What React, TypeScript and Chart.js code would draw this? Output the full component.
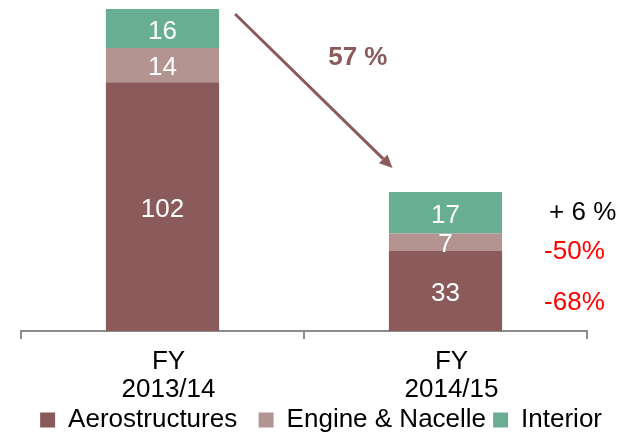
import React, { useEffect, useRef } from 'react';
import { Chart, registerables } from 'chart.js';

Chart.register(...registerables);

// ---- data ----
const categories = [['FY', '2013/14'], ['FY', '2014/15']];
const seriesNames = ['Aerostructures', 'Engine & Nacelle', 'Interior'];
const aerostructures = [102, 33];
const engineNacelle = [14, 7];
const interior = [16, 17];
const seriesColors = ['#8B5B5B', '#B49491', '#68AE92'];
// change labels, listed top to bottom: Interior, Engine & Nacelle, Aerostructures
const changeLabels = ['+ 6 %', '-50%', '-68%'];
const changeSeriesIndex = [2, 1, 0];
const changeColors = ['#000000', '#FF0000', '#FF0000'];
const totalChangeLabel = '57 %';
const yMax = 132;

const FONT = '"Liberation Sans", Arial, Helvetica, sans-serif';

const annotationPlugin = {
  id: 'annotations',
  afterDatasetsDraw(chart: any) {
    const ctx = chart.ctx as CanvasRenderingContext2D;
    ctx.save();
    // value labels inside segments
    ctx.font = `26px ${FONT}`;
    ctx.fillStyle = '#FFFFFF';
    ctx.textAlign = 'center';
    ctx.textBaseline = 'middle';
    chart.data.datasets.forEach((ds: any, di: number) => {
      const meta = chart.getDatasetMeta(di);
      meta.data.forEach((el: any, i: number) => {
        const p = el.getProps(['x', 'y', 'base'], true);
        ctx.fillText(String(ds.data[i]), p.x, (p.y + p.base) / 2 + 3);
      });
    });

    // arrow from top of first bar to top of second bar
    const topMeta = chart.getDatasetMeta(2);
    const b1 = topMeta.data[0].getProps(['x', 'y', 'width'], true);
    const b2 = topMeta.data[1].getProps(['x', 'y', 'width'], true);
    const sx = b1.x + b1.width / 2 + 16;
    const sy = b1.y + 5;
    const ex = b2.x - 53;
    const ey = b2.y - 24;
    const ang = Math.atan2(ey - sy, ex - sx);
    const head = 13;
    const halfW = 6;
    const bx = ex - head * Math.cos(ang);
    const by = ey - head * Math.sin(ang);
    ctx.strokeStyle = '#8B5B5B';
    ctx.fillStyle = '#8B5B5B';
    ctx.lineWidth = 3;
    ctx.beginPath();
    ctx.moveTo(sx, sy);
    ctx.lineTo(bx, by);
    ctx.stroke();
    ctx.beginPath();
    ctx.moveTo(ex, ey);
    ctx.lineTo(bx + halfW * Math.sin(ang), by - halfW * Math.cos(ang));
    ctx.lineTo(bx - halfW * Math.sin(ang), by + halfW * Math.cos(ang));
    ctx.closePath();
    ctx.fill();

    // total change label
    ctx.font = `bold 26px ${FONT}`;
    ctx.fillStyle = '#8B5B5B';
    ctx.textAlign = 'center';
    ctx.fillText(totalChangeLabel, (sx + ex) / 2 + 44, (sy + ey) / 2 - 33);

    // per-series change labels to the right of the second bar
    ctx.font = `26px ${FONT}`;
    ctx.textAlign = 'left';
    const xOffsets = [47, 42, 42];
    const yOffsets = [0, 10, 12];
    changeLabels.forEach((txt, k) => {
      const el = chart.getDatasetMeta(changeSeriesIndex[k]).data[1];
      const p = el.getProps(['x', 'y', 'base', 'width'], true);
      ctx.fillStyle = changeColors[k];
      ctx.fillText(txt, p.x + p.width / 2 + xOffsets[k], (p.y + p.base) / 2 + yOffsets[k]);
    });
    ctx.restore();
  },
};

export default function App() {
  const canvasRef = useRef<HTMLCanvasElement | null>(null);

  useEffect(() => {
    if (!canvasRef.current) return;
    const values = [aerostructures, engineNacelle, interior];
    const defaultLabels = (Chart.defaults.plugins.legend.labels as any).generateLabels;
    const chart = new Chart(canvasRef.current, {
      type: 'bar',
      data: {
        labels: categories,
        datasets: seriesNames.map((name, i) => ({
          label: name,
          data: values[i],
          backgroundColor: seriesColors[i],
          borderWidth: 0,
          categoryPercentage: 1,
          barPercentage: 0.4,
        })),
      },
      plugins: [annotationPlugin],
      options: {
        animation: false,
        responsive: true,
        maintainAspectRatio: false,
        layout: { padding: { top: 9, left: 0, right: 13, bottom: 0 } },
        plugins: {
          tooltip: { enabled: false },
          title: { display: false },
          legend: {
            position: 'bottom',
            align: 'end',
            labels: {
              boxWidth: 15,
              boxHeight: 15,
              padding: 7,
              color: '#000000',
              font: { size: 26, family: FONT },
              generateLabels: (c: any) =>
                defaultLabels(c).map((item: any, i: number) => ({
                  ...item,
                  text: i === 0 ? item.text + '  ' : item.text,
                })),
            },
          },
        },
        scales: {
          x: {
            stacked: true,
            offset: true,
            grid: {
              display: true,
              drawOnChartArea: false,
              drawTicks: true,
              tickLength: 8,
              color: '#8C8C8C',
              lineWidth: 2,
              offset: true,
            },
            border: { display: true, color: '#8C8C8C', width: 2 },
            ticks: {
              color: '#000000',
              padding: 9,
              labelOffset: 6,
              maxRotation: 0,
              font: { size: 26, family: FONT, lineHeight: 28 / 26 },
            },
            afterFit: (s: any) => {
              s.height = 69;
            },
          },
          y: {
            stacked: true,
            min: 0,
            max: yMax,
            display: true,
            grid: { display: false },
            border: { display: false },
            ticks: { display: false },
            afterFit: (s: any) => {
              s.width = 21;
            },
          },
          yRight: {
            type: 'linear',
            position: 'right',
            display: true,
            grid: { display: false },
            border: { display: false },
            ticks: { display: false },
            afterFit: (s: any) => {
              s.width = 22;
            },
          },
        },
      } as any,
    });
    return () => chart.destroy();
  }, []);

  return (
    <div style={{ position: 'fixed', left: 0, top: 0, width: 622, height: 432, overflow: 'hidden', background: '#fff' }}>
      <div style={{ position: 'relative', width: 622, height: 443 }}>
        <canvas ref={canvasRef} />
      </div>
    </div>
  );
}
